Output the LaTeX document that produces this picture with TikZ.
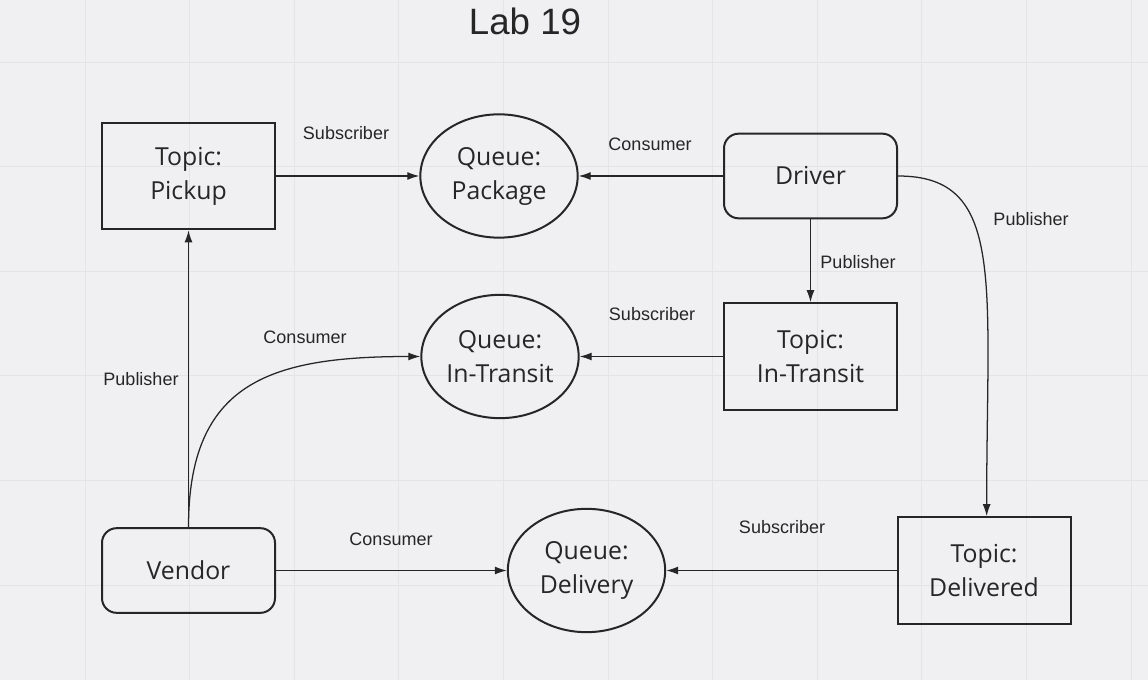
\documentclass[tikz,border=0pt]{standalone}
\usepackage{fontspec}
\setmainfont{Open Sans}
\newfontfamily\arialfont{Liberation Sans}
\usetikzlibrary{arrows.meta}
\usetikzlibrary{shapes.geometric}
\definecolor{paper}{RGB}{240,240,242}
\definecolor{gridline}{RGB}{228,228,231}
\definecolor{ink}{RGB}{38,38,38}

\begin{document}
\begin{tikzpicture}[x=0.75pt,y=-0.75pt,
		topic/.style={draw=ink,line width=1.5pt,text=ink,minimum width=129.75pt,minimum height=80pt,inner sep=0pt,align=center,font=\fontsize{18.6}{25.5}\selectfont},
		actor/.style={topic,rounded corners=11pt,minimum height=63.5pt},
		queue/.style={draw=ink,line width=1.5pt,text=ink,ellipse,minimum width=118pt,minimum height=92.5pt,inner sep=0pt,align=center,font=\fontsize{18.6}{25.5}\selectfont},
		lbl/.style={text=ink,inner sep=0pt,font=\arialfont\fontsize{13.5}{16}\selectfont},
		flow/.style={draw=ink,line width=0.95pt,-{Latex[length=9pt,width=6pt]}}]
	% background and grid
	\fill[paper] (0,0) rectangle (1148,680);
	\useasboundingbox (0,0) rectangle (1148,680);
	\foreach \gx in {0,...,10} \draw[gridline,line width=0.6pt] (85+104.6*\gx,0) -- (85+104.6*\gx,680);
	\foreach \gy in {0,...,5} \draw[gridline,line width=0.6pt] (0,62+104.6*\gy) -- (1148,62+104.6*\gy);

	\node[text=ink,font=\arialfont\fontsize{27.5}{30}\selectfont] (title) at (525,21) {Lab 19};

	% topics, queues and actors
	\node[topic] (pickup) at (188.5,176) {Topic:\\Pickup};
	\node[queue] (qpackage) at (499,176) {Queue:\\Package};
	\node[actor] (driver) at (810.5,176) {Driver};
	\node[topic] (ttransit) at (810.5,356.5) {Topic:\\In-Transit};
	\node[queue] (qtransit) at (500,356.5) {Queue:\\In-Transit};
	\node[actor] (vendor) at (188.5,570.5) {Vendor};
	\node[queue] (qdelivery) at (586.5,570.5) {Queue:\\Delivery};
	\node[topic] (tdelivered) at (984,570.5) {Topic:\\Delivered};

	% connectors
	\draw[flow] (pickup) -- (qpackage);
	\draw[flow] (driver) -- (qpackage);
	\draw[flow] (driver) -- (ttransit);
	\draw[flow] (driver.east) .. controls +(108,0) and +(0,-235) .. ([xshift=2pt]tdelivered.north);
	\draw[flow] (ttransit) -- (qtransit);
	\draw[flow] (vendor) -- (pickup);
	\draw[flow] (vendor.north) .. controls +(0,-145) and +(-150,0) .. (qtransit.west);
	\draw[flow] (vendor) -- (qdelivery);
	\draw[flow] (tdelivered) -- (qdelivery);

	% labels
	\node[lbl] (subpickup) at (346,133) {Subscriber};
	\node[lbl] (condriver) at (650,144) {Consumer};
	\node[lbl] (pubtransit) at (858,262) {Publisher};
	\node[lbl] (pubdelivered) at (1031,219) {Publisher};
	\node[lbl] (subtransit) at (652,314) {Subscriber};
	\node[lbl] (contransit) at (305,337) {Consumer};
	\node[lbl] (pubpickup) at (141,379) {Publisher};
	\node[lbl] (condelivery) at (391,539) {Consumer};
	\node[lbl] (subdelivered) at (782,527) {Subscriber};
\end{tikzpicture}
\end{document}
